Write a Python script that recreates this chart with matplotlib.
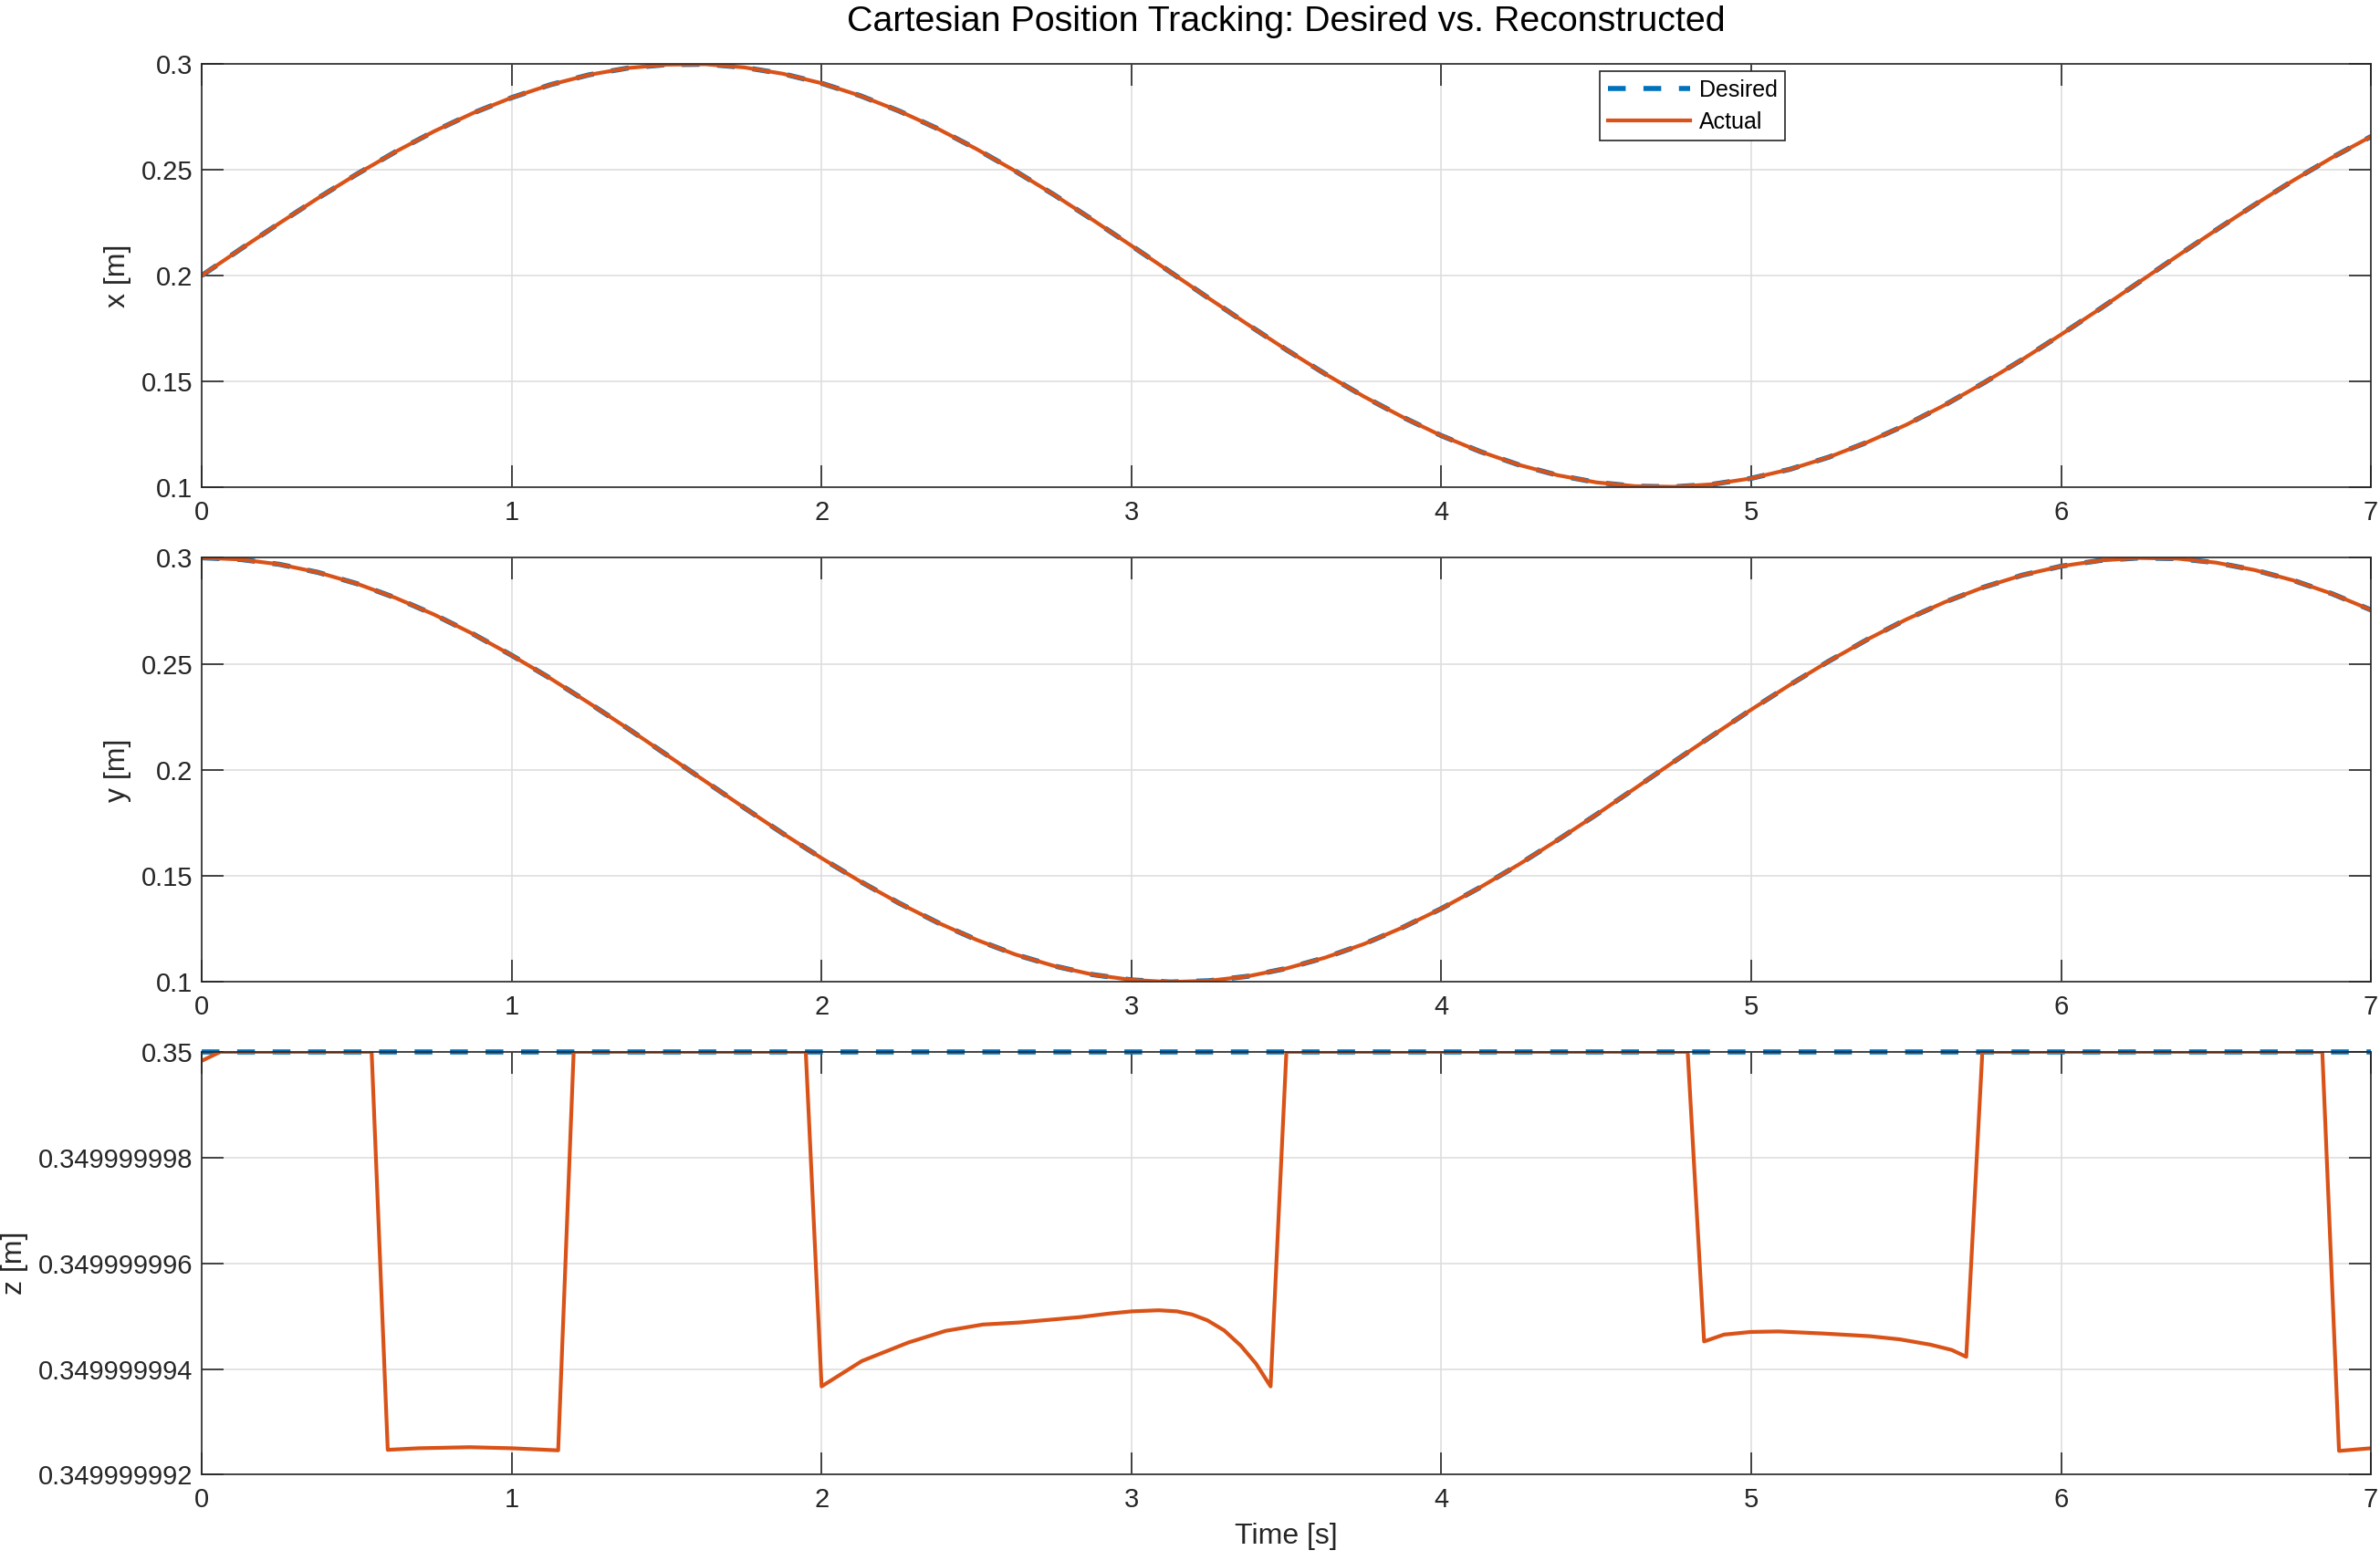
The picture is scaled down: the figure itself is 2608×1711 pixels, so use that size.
#!/usr/bin/env python3
"""
Cartesian position tracking plot: desired vs reconstructed trajectory (x, y, z)
"""

import numpy as np
import matplotlib
matplotlib.use('Agg')
import matplotlib.pyplot as plt

plt.rcParams['font.family'] = ['Liberation Sans', 'DejaVu Sans']

# x / y traces, read every 0.125 s from 0 to 7 s
x_desired = [0.2000, 0.2125, 0.2247, 0.2366, 0.2479, 0.2585, 0.2682, 0.2768, 0.2841,
             0.2902, 0.2949, 0.2981, 0.2997, 0.2999, 0.2984, 0.2954, 0.2909, 0.2850,
             0.2778, 0.2694, 0.2598, 0.2494, 0.2382, 0.2263, 0.2141, 0.2017, 0.1892,
             0.1769, 0.1649, 0.1535, 0.1428, 0.1331, 0.1243, 0.1168, 0.1105, 0.1056,
             0.1022, 0.1004, 0.1001, 0.1013, 0.1041, 0.1084, 0.1141, 0.1212, 0.1294,
             0.1388, 0.1492, 0.1603, 0.1721, 0.1842, 0.1967, 0.2092, 0.2215, 0.2335,
             0.2450, 0.2558, 0.2657]
# reconstructed x/y are indistinguishable from the desired ones at this scale
x_actual = list(x_desired)

y_desired = [0.3000, 0.2992, 0.2969, 0.2931, 0.2878, 0.2811, 0.2732, 0.2641, 0.2540,
             0.2431, 0.2315, 0.2195, 0.2071, 0.1946, 0.1822, 0.1700, 0.1584, 0.1474,
             0.1372, 0.1280, 0.1199, 0.1130, 0.1076, 0.1035, 0.1010, 0.1000, 0.1006,
             0.1027, 0.1064, 0.1115, 0.1179, 0.1257, 0.1346, 0.1446, 0.1554, 0.1669,
             0.1789, 0.1913, 0.2038, 0.2162, 0.2284, 0.2401, 0.2512, 0.2615, 0.2709,
             0.2791, 0.2861, 0.2918, 0.2960, 0.2987, 0.2999, 0.2996, 0.2977, 0.2942,
             0.2893, 0.2830, 0.2754]
y_actual = list(y_desired)

# z: desired is constant, actual dips by a few nanometres
t_zdes = [0.0, 7.0]
z_desired = [0.35, 0.35]

t_zact = [0.0, 0.06, 0.548, 0.60, 0.70, 0.865, 1.0, 1.15, 1.20, 1.949,
          2.0, 2.13, 2.28, 2.40, 2.52, 2.64, 2.735, 2.833, 2.931, 3.002, 3.088,
          3.147, 3.196, 3.245, 3.299, 3.353, 3.402, 3.449, 3.50, 4.795,
          4.848, 4.912, 4.998, 5.088, 5.235, 5.382, 5.480, 5.578, 5.647, 5.694,
          5.746, 6.843, 6.897, 7.0]
# drop below 0.35 m, in units of 1e-9 m
z_drop_nm = [0.17, 0.0, 0.0, 7.53, 7.50, 7.48, 7.50, 7.54, 0.0, 0.0,
             6.33, 5.85, 5.50, 5.28, 5.16, 5.12, 5.07, 5.02, 4.95, 4.91, 4.89,
             4.91, 4.97, 5.08, 5.27, 5.56, 5.90, 6.33, 0.0, 0.0,
             5.48, 5.35, 5.30, 5.29, 5.33, 5.38, 5.44, 5.54, 5.64, 5.77,
             0.0, 0.0, 7.55, 7.50]

x_ticks = [0, 1, 2, 3, 4, 5, 6, 7]
xy_ticks = [0.1, 0.15, 0.2, 0.25, 0.3]
xy_ticklabels = ['0.1', '0.15', '0.2', '0.25', '0.3']
z_ticks = [0.349999992, 0.349999994, 0.349999996, 0.349999998, 0.35]
z_ticklabels = ['0.349999992', '0.349999994', '0.349999996', '0.349999998', '0.35']

BLUE = '#0072BD'
ORANGE = '#D95319'
AX_COLOR = '#262626'
TICK_FS = 10.5
LABEL_FS = 11.5


def style_axes(ax):
    ax.set_xlim(0, 7)
    ax.set_xticks(x_ticks)
    ax.grid(True, color='#dedede', linewidth=0.6)
    ax.set_axisbelow(True)
    ax.tick_params(direction='in', length=8.5, width=0.6, colors=AX_COLOR,
                   labelsize=TICK_FS, top=True, right=True)
    ax.tick_params(axis='x', pad=5)
    for sp in ax.spines.values():
        sp.set_color(AX_COLOR)
        sp.set_linewidth(0.6)


def main():
    fig = plt.figure(figsize=(13.04, 8.555), dpi=200)
    left, width = 0.0848, 0.9114
    ax1 = fig.add_axes([left, 0.688, width, 0.271])
    ax2 = fig.add_axes([left, 0.3709, width, 0.2718])
    ax3 = fig.add_axes([left, 0.0553, width, 0.2709])

    t_xy = np.linspace(0, 7, len(x_desired))
    for ax, des, act, lab in [(ax1, x_desired, x_actual, 'x [m]'),
                              (ax2, y_desired, y_actual, 'y [m]')]:
        ax.plot(t_xy, des, color=BLUE, linewidth=2.0, linestyle='--',
                dashes=(3.5, 3.5), label='Desired')
        ax.plot(t_xy, act, color=ORANGE, linewidth=1.5, label='Actual')
        style_axes(ax)
        ax.set_ylim(0.1, 0.3)
        ax.set_yticks(xy_ticks)
        ax.set_yticklabels(xy_ticklabels)
        ax.set_ylabel(lab, fontsize=LABEL_FS, color=AX_COLOR)

    z_actual = 0.35 - np.array(z_drop_nm) * 1e-9
    ax3.plot(t_zdes, z_desired, color=BLUE, linewidth=2.0, linestyle='--',
             dashes=(3.5, 3.5), label='Desired', clip_on=False)
    ax3.plot(t_zact, z_actual, color=ORANGE, linewidth=1.5, label='Actual')
    style_axes(ax3)
    ax3.set_ylim(z_ticks[0], z_ticks[-1])
    ax3.set_yticks(z_ticks)
    ax3.set_yticklabels(z_ticklabels)
    ax3.set_ylabel('z [m]', fontsize=LABEL_FS, color=AX_COLOR)
    ax3.set_xlabel('Time [s]', fontsize=LABEL_FS, color=AX_COLOR)

    ax1.set_title('Cartesian Position Tracking: Desired vs. Reconstructed',
                  fontsize=14.2, color='black', pad=13)

    leg = ax1.legend(loc='upper left', bbox_to_anchor=(0.6445, 0.982),
                     borderaxespad=0, fontsize=9, fancybox=False, framealpha=1,
                     edgecolor=AX_COLOR, handlelength=3.6, handletextpad=0.4,
                     labelspacing=0.42, borderpad=0.35)
    leg.get_frame().set_linewidth(0.6)

    fig.savefig('out.png', dpi=200)


if __name__ == '__main__':
    main()
